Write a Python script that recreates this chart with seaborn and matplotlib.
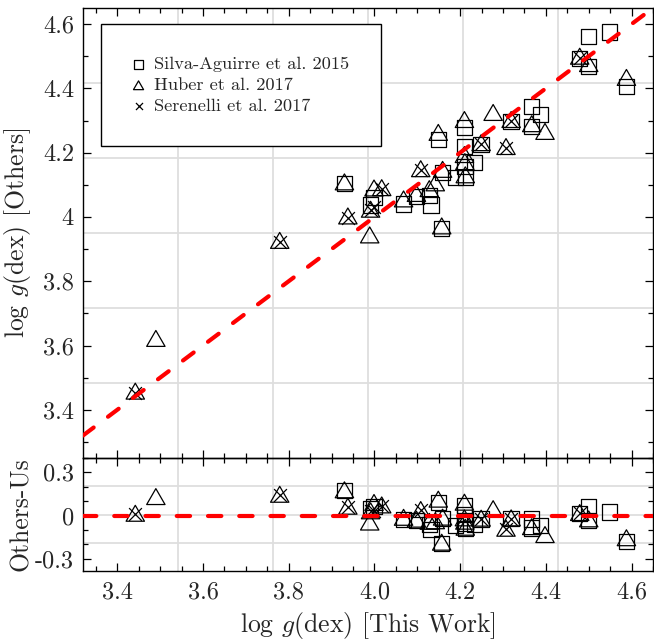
import numpy as np
import pandas as pd
import matplotlib
matplotlib.use("Agg")
import matplotlib.pyplot as plt
from matplotlib.path import Path
from matplotlib.ticker import MultipleLocator, FuncFormatter, NullFormatter
import seaborn as sns

nan = np.nan

# log g of each star from this work, and the values quoted by three catalogues
# (nan where the star is not in that catalogue)
this_work = [3.442, 3.490, 3.779, 3.930, 3.938, 3.989, 3.991, 3.999, 4.017, 4.068,
             4.098, 4.108, 4.128, 4.132, 4.142, 4.149, 4.157, 4.159, 4.189, 4.210,
             4.210, 4.211, 4.212, 4.233, 4.249, 4.277, 4.307, 4.319, 4.367, 4.367,
             4.388, 4.398, 4.479, 4.500, 4.500, 4.549, 4.588]
silva_aguirre_2015 = [nan, nan, nan, 4.103, nan, nan, 4.037, 4.060, nan, 4.040,
                      4.063, nan, 4.067, 4.037, nan, 4.241, 3.965, 4.138, 4.122, 4.278,
                      4.219, 4.156, 4.122, 4.169, 4.225, nan, nan, 4.297, 4.344, 4.281,
                      4.319, nan, 4.493, 4.468, 4.562, 4.575, 4.406]
huber_2017 = [3.458, 3.622, 3.927, 4.109, 4.003, 3.944, 4.024, 4.090, 4.091, 4.056,
              4.073, 4.150, 4.088, nan, 4.106, 4.263, 3.972, 4.148, nan, 4.303,
              4.194, 4.172, 4.131, nan, 4.231, 4.325, 4.219, 4.303, nan, 4.290,
              nan, 4.266, 4.500, 4.477, nan, nan, 4.434]
serenelli_2017 = [3.452, nan, 3.921, nan, 3.998, nan, 4.021, 4.030, 4.086, nan,
                  nan, 4.145, nan, nan, nan, nan, nan, nan, nan, nan,
                  nan, nan, nan, nan, 4.226, nan, 4.214, 4.297, nan, nan,
                  nan, nan, 4.495, nan, nan, nan, nan]

catalogues = ["Silva-Aguirre et al. 2015", "Huber et al. 2017", "Serenelli et al. 2017"]
catalogue_values = [silva_aguirre_2015, huber_2017, serenelli_2017]

frames = [pd.DataFrame({"this_work": this_work, "others": vals, "catalogue": name})
          for name, vals in zip(catalogues, catalogue_values)]
df = pd.concat(frames, ignore_index=True).dropna()
df["diff"] = df["others"] - df["this_work"]

sns.set_style("ticks")
plt.rcParams.update({
    "font.family": "serif",
    "font.serif": ["cmr10"],
    "mathtext.fontset": "cm",
    "axes.unicode_minus": False,
    "axes.formatter.use_mathtext": True,
    "axes.edgecolor": "black",
    "axes.linewidth": 1.0,
})

# equilateral open triangle
triangle = Path([(0, 0.433), (-0.5, -0.433), (0.5, -0.433), (0, 0.433)],
                [Path.MOVETO, Path.LINETO, Path.LINETO, Path.CLOSEPOLY])
marker_styles = {
    "Silva-Aguirre et al. 2015": dict(marker="s", s=122),
    "Huber et al. 2017": dict(marker=triangle, s=175),
    "Serenelli et al. 2017": dict(marker="x", s=85),
}

fig = plt.figure(figsize=(6.54, 6.43), dpi=100)
W, H = 654.0, 643.0
left, right = 83 / W, 653 / W
ax_top = fig.add_axes([left, 1 - 458 / H, right - left, 450 / H], zorder=2)
ax_bot = fig.add_axes([left, 1 - 571 / H, right - left, 113 / H], zorder=2)


def grid_layer(ax, ylim, yticks):
    """Light reference grid drawn on its own layer beneath an axes."""
    g = fig.add_axes(ax.get_position().bounds, zorder=1)
    g.set_xlim(3.4, 4.6)
    g.set_ylim(*ylim)
    g.set_xticks([3.6, 3.8, 4.0, 4.2, 4.4])
    g.set_yticks(yticks)
    g.grid(True, color="#dedede", lw=1.3)
    g.tick_params(which="both", length=0, labelbottom=False, labelleft=False)
    for s in g.spines.values():
        s.set_visible(False)
    ax.patch.set_visible(False)
    return g


grid_layer(ax_top, (3.4, 4.6), [3.6, 3.8, 4.0, 4.2, 4.4])
grid_layer(ax_bot, (-0.4, 0.4), [-0.2, 0.0, 0.2])


def draw_points(ax, ycol, with_label):
    for name in catalogues:
        sub = df[df["catalogue"] == name]
        st = marker_styles[name]
        kws = dict(data=sub, x="this_work", y=ycol, ax=ax, marker=st["marker"], s=st["s"],
                   linewidth=0.9, legend=False, zorder=2)
        if with_label:
            kws["label"] = name
        if st["marker"] == "x":
            sns.scatterplot(color="black", **kws)
        else:
            sns.scatterplot(facecolor="none", edgecolor="black", **kws)


draw_points(ax_top, "others", True)
draw_points(ax_bot, "diff", False)

line_kw = dict(color="red", lw=3.0, dashes=(3.2, 4.3), dash_capstyle="round", zorder=3)
ax_top.axline((3.4, 3.4), slope=1, **line_kw)
ax_bot.axhline(0, **line_kw)

ax_top.set_xlim(3.32, 4.65)
ax_bot.set_xlim(3.32, 4.65)
ax_top.set_ylim(3.25, 4.65)
ax_bot.set_ylim(-0.385, 0.40)

for ax in (ax_top, ax_bot):
    ax.xaxis.set_major_locator(MultipleLocator(0.2))
    ax.xaxis.set_minor_locator(MultipleLocator(0.05))
    ax.tick_params(which="both", direction="in", top=True, right=True,
                   color="black", width=0.9, labelsize=17.5)
    ax.tick_params(axis="y", pad=6.5)
    ax.tick_params(axis="x", pad=7.5)
    ax.tick_params(which="major", length=6)
    ax.tick_params(which="minor", length=3.5)
    for s in ax.spines.values():
        s.set_color("black")
        s.set_linewidth(1.0)

ax_top.yaxis.set_major_locator(MultipleLocator(0.2))
ax_top.yaxis.set_minor_locator(MultipleLocator(0.1))
ax_top.yaxis.set_major_formatter(FuncFormatter(lambda v, p: f"{round(v, 2):g}"))
ax_top.xaxis.set_major_formatter(NullFormatter())

ax_bot.yaxis.set_major_locator(MultipleLocator(0.3))
ax_bot.yaxis.set_minor_locator(MultipleLocator(0.1))
ax_bot.yaxis.set_major_formatter(FuncFormatter(lambda v, p: f"{round(v, 2) + 0:g}"))
ax_bot.xaxis.set_major_formatter(FuncFormatter(lambda v, p: f"{v:.1f}"))

ax_top.set_xlabel("")
ax_top.set_ylabel("log $g$(dex) [Others]", fontsize=18.5)
ax_bot.set_ylabel("Others-Us", fontsize=18.5)
ax_bot.set_xlabel("log $g$(dex) [This Work]", fontsize=18.5, labelpad=5)
ax_top.yaxis.set_label_coords(-0.088, 0.5)
ax_bot.yaxis.set_label_coords(-0.088, 0.5)

leg = ax_top.legend(loc="upper left", bbox_to_anchor=(0.0315, 0.964), borderaxespad=0,
                    fontsize=13.2, markerscale=0.55, frameon=True, fancybox=False,
                    edgecolor="black", framealpha=1, borderpad=1.75, handlelength=0.6,
                    handletextpad=0.55, labelspacing=0.28)
leg.get_frame().set_linewidth(1.0)

fig.savefig("out.png", dpi=100)
